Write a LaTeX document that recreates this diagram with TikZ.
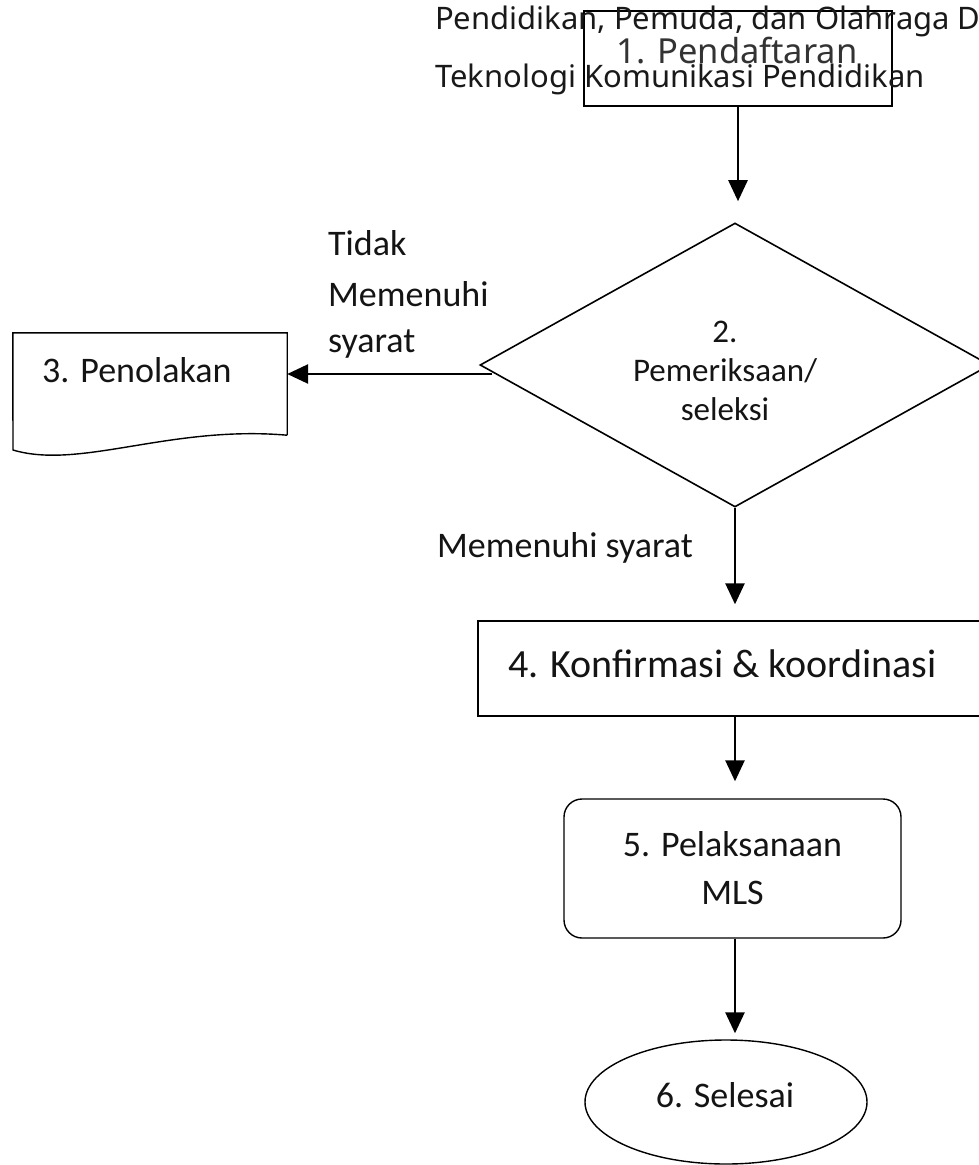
\documentclass[tikz,border=0pt]{standalone}
\usepackage{fontspec}
\setmainfont{Carlito}
\newfontfamily\notosans{Noto Sans}
\usetikzlibrary{shapes.geometric,arrows.meta,calc}
\begin{document}
\begin{tikzpicture}[x=1pt,y=-1pt,
  box/.style={draw, line width=1.4pt, inner sep=0pt},
  arr/.style={line width=2.6pt, -{Triangle[length=21pt,width=19pt]}},
  lbl/.style={font=\fontsize{36}{48}\selectfont, inner sep=0pt, text=black!92},
  over/.style={font=\notosans\fontsize{31}{37}\selectfont, inner sep=0pt, text=black!90, anchor=base west},
]
\useasboundingbox (0,0) rectangle (979,1165);
\clip (0,0) rectangle (979,1165);

% box 1
\node[box, minimum width=308pt, minimum height=95pt] (b1) at (738,58.5) {};
\node[anchor=base, inner sep=0pt, font=\notosans\fontsize{34.5}{40}\selectfont, text=black!80] (t1) at (737,63) {1. Pendaftaran};

% overlay text
\node[over] (o1) at (435,29) {Pendidikan, Pemuda, dan Olahraga D};
\node[over] (o2) at (435,87) {Teknologi Komunikasi Pendidikan};

% diamond
\node[draw, diamond, line width=1.6pt, minimum width=510pt, minimum height=284pt, inner sep=0pt] (d) at (735,365) {};
\node[inner sep=0pt, align=center, font=\fontsize{33}{39}\selectfont, text=black!92] (dt) at (725,371) {2.\\Pemeriksaan/\\seleksi};

% box 3 (document)
\node[minimum width=274pt, minimum height=102pt, inner sep=0pt] (pen) at (150,384) {};
\draw[line width=1.4pt] (pen.south east) -- (pen.north east) -- (pen.north west) -- (13,450)
  .. controls (80,470) and (170,425) .. (pen.south east);
\node[lbl, anchor=base west] (t3) at (42,382) {3. Penolakan};

% labels
\node[lbl, anchor=base west] (l1) at (328,255) {Tidak};
\node[lbl, anchor=base west] (l2) at (328,306) {Memenuhi};
\node[lbl, anchor=base west] (l3) at (328,352) {syarat};
\node[lbl, anchor=base west] (l4) at (437,557) {Memenuhi syarat};

% box 4
\node[box, minimum width=504pt, minimum height=95pt] (b4) at (730,668.5) {};
\node[anchor=base west, inner sep=0pt, font=\fontsize{40}{48}\selectfont, text=black!92] (t4) at (508,677) {4. Konfirmasi \& koordinasi};

% box 5
\node[box, rounded corners=18pt, minimum width=337pt, minimum height=139pt, align=center, font=\fontsize{36}{48}\selectfont, text=black!92] (b5) at (732.5,868.5) {5. Pelaksanaan\\MLS};

% ellipse 6
\node[draw, ellipse, line width=1.4pt, minimum width=282pt, minimum height=124pt, inner sep=0pt] (e6) at (726,1102) {};
\node[lbl, anchor=base] (t6) at (725,1107) {6. Selesai};

% connectors
\draw[arr, shorten >=21pt] (b1.south) -- (d.north -| b1.south);
\draw[arr, shorten >=16pt] (d.south) -- (d.south |- b4.north);
\draw[arr, shorten >=17pt] (b4.south -| d.south) -- (b5.north -| d.south);
\draw[arr, shorten >=6pt] (b5.south -| d.south) -- (e6.north -| d.south);
\coordinate (s3) at (492,374);
\draw[arr] (s3) -- (s3 -| pen.east);
\end{tikzpicture}
\end{document}
